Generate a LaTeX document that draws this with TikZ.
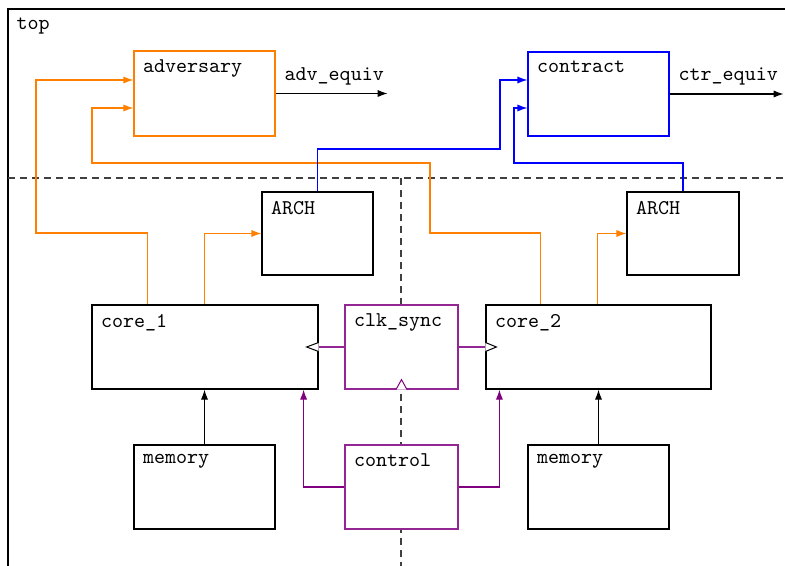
\documentclass[tikz,border=0pt]{standalone}
\usetikzlibrary{arrows.meta,calc,fit}
\definecolor{mypurple}{RGB}{128,0,128}
\definecolor{myorange}{RGB}{255,128,0}
\begin{document}
\begin{tikzpicture}[x=0.5pt,y=-0.5pt,
  font=\ttfamily\fontsize{10.5}{12}\selectfont,
  line width=0.6pt,
  blk/.style={draw, fill=white, inner sep=0pt},
  title/.style={anchor=north west, inner sep=4.5pt},
  arr/.style={-{Latex[length=5pt,width=3.6pt]}},
  sep/.style={draw=black!75, dash pattern=on 3.5pt off 2.5pt},
  clocktip/.style={line width=0.5pt}]
\useasboundingbox (0,0) rectangle (785,566);

% enclosing frame of the top module
\draw (8,566) -- (8,9) -- (785,9);
\node[title, inner sep=4pt] (toplbl) at (8,9) {top};

% separators
\draw[sep] (8,178) -- (785,178);
\draw[sep] (401,178) -- (401,566);

% blocks
\node[blk, draw=myorange, fit={(134,51) (275,136)},
      label={[title]north west:adversary}] (adv) {};
\node[blk, draw=blue, fit={(528,52) (669,136)},
      label={[title]north west:contract}] (ctr) {};
\node[blk, fit={(262,192) (373,275)},
      label={[title]north west:ARCH}] (arch1) {};
\node[blk, fit={(627,192) (739,275)},
      label={[title]north west:ARCH}] (arch2) {};
\node[blk, fit={(92,305) (318,389)},
      label={[title]north west:core\_1}] (core1) {};
\node[blk, draw=mypurple!85, fit={(345,305) (458,389)},
      label={[title]north west:clk\_sync}] (clk) {};
\node[blk, fit={(486,305) (711,389)},
      label={[title]north west:core\_2}] (core2) {};
\node[blk, fit={(134,445) (275,529)},
      label={[title]north west:memory}] (mem1) {};
\node[blk, draw=mypurple!85, fit={(345,445) (458,529)},
      label={[title]north west:control}] (ctrl) {};
\node[blk, fit={(528,445) (669,529)},
      label={[title]north west:memory}] (mem2) {};

% equivalence outputs
\coordinate (advout) at ($(adv.east)+(112,0)$);
\coordinate (ctrout) at ($(ctr.east)+(114,0)$);
\draw[arr] (adv.east) -- (advout);
\draw[arr] (ctr.east) -- (ctrout);
\node[anchor=base west, inner sep=0pt] (advlbl) at (284,81) {adv\_equiv};
\node[anchor=base west, inner sep=0pt] (ctrlbl) at (678,81) {ctr\_equiv};

% adversary taps (orange)
\draw[arr, color=myorange]
  ($(core1.north west)+(56,0)$) |- (36,233) |- ($(adv.west)+(0,-13.5)$);
\draw[arr, color=myorange]
  ($(core2.north west)+(55,0)$) |- (430,233) |- (92,163) |- ($(adv.west)+(0,14.5)$);
\draw[arr, color=myorange]
  ($(core1.north west)+(113,0)$) |- (arch1.west);
\draw[arr, color=myorange]
  ($(core2.north west)+(112,0)$) |- (arch2.west);

% architectural observations (blue)
\draw[arr, color=blue]
  (arch1.north) |- (500,149) |- ($(ctr.west)+(0,-14)$);
\draw[arr, color=blue]
  (arch2.north) |- (514,163) |- ($(ctr.west)+(0,14)$);

% memories
\draw[arr] (mem1.north) -- (mem1.north |- core1.south);
\draw[arr] (mem2.north) -- (mem2.north |- core2.south);

% control (purple)
\draw[arr, color=mypurple]
  (ctrl.west) -| ($(core1.south east)+(-15,0)$);
\draw[arr, color=mypurple]
  (ctrl.east) -| ($(core2.south west)+(14,0)$);

% clock distribution
\draw[draw=mypurple!85] (clk.west) -- (core1.east);
\draw[draw=mypurple!85] (clk.east) -- (core2.west);
\draw[clocktip, fill=white] ($(core1.east)+(0,-4.5)$) -- ++(-12,4.5) -- ++(12,4.5);
\draw[clocktip, fill=white] ($(core2.west)+(0,-4.5)$) -- ++(11,4.5) -- ++(-11,4.5);
\draw[clocktip, draw=mypurple, fill=white] ($(clk.south)+(-5.5,0)$) -- ++(5.5,-10) -- ++(5.5,10);
\end{tikzpicture}
\end{document}
